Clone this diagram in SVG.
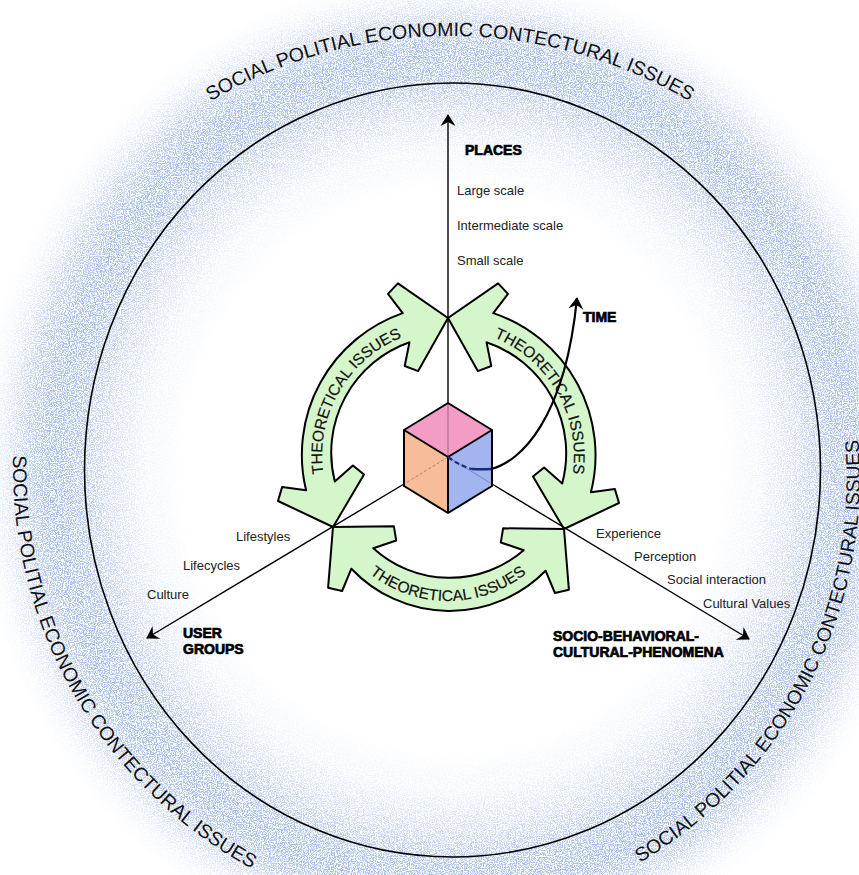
<svg xmlns="http://www.w3.org/2000/svg" width="859" height="875" viewBox="0 0 859 875">
  <defs>
    <style>
      .lbl { font-family: "Liberation Sans", Arial, sans-serif; font-size: 13px; fill: #222; }
      .bold { font-family: "Liberation Sans", Arial, sans-serif; font-size: 14px; font-weight: 700; fill: #000; stroke: #000; stroke-width: 0.7; }
      .ring-txt { font-family: "Liberation Sans", Arial, sans-serif; font-size: 19.5px; fill: #111; }
      .theory-txt { font-family: "Liberation Sans", Arial, sans-serif; font-size: 15.5px; fill: #111; stroke: #111; stroke-width: 0.2; }
      .theory { fill: #d5f5cb; stroke: #000; stroke-width: 2; stroke-linejoin: round; }
      .axis { fill: none; stroke: #000; stroke-width: 1.4; }
      .edge { fill: none; stroke: #000; stroke-width: 2; stroke-linejoin: round; }
      .inner { fill: none; stroke-width: 0.8; }
    </style>
    <radialGradient id="haloFill">
      <stop offset="0.56" stop-color="#6d92dd" stop-opacity="0"/>
      <stop offset="0.64" stop-color="#6d92dd" stop-opacity="0.1"/>
      <stop offset="0.72" stop-color="#6d92dd" stop-opacity="0.3"/>
      <stop offset="0.79" stop-color="#6d92dd" stop-opacity="0.55"/>
      <stop offset="0.84" stop-color="#6d92dd" stop-opacity="0.6"/>
      <stop offset="0.89" stop-color="#6d92dd" stop-opacity="0.42"/>
      <stop offset="0.93" stop-color="#6d92dd" stop-opacity="0.2"/>
      <stop offset="0.97" stop-color="#6d92dd" stop-opacity="0.05"/>
      <stop offset="1" stop-color="#6d92dd" stop-opacity="0"/>
    </radialGradient>
    <filter id="grain" x="-10%" y="-10%" width="120%" height="120%" color-interpolation-filters="sRGB">
      <feTurbulence type="fractalNoise" baseFrequency="0.85" numOctaves="2" seed="11" result="noise"/>
      <feColorMatrix in="noise" type="matrix" values="0 0 0 0 0  0 0 0 0 0  0 0 0 0 0  5 0 0 0 -2" result="dots"/>
      <feComposite in="SourceGraphic" in2="dots" operator="in"/>
    </filter>
    <marker id="head" viewBox="-13 -9 15 18" refX="0" refY="0" markerWidth="15" markerHeight="18" markerUnits="userSpaceOnUse" orient="auto">
      <path d="M1,0 L-11,-7.5 L-7,0 L-11,7.5 Z" fill="#000"/>
    </marker>
    <!-- baselines for the curved lettering -->
    <path id="ringTop" d="M40.4,272.5 A473,473 0 0 1 859.6,272.5"/>
    <path id="ringLeft" d="M74.2,238.5 A457,457 0 0 0 470,924"/>
    <path id="ringRight" d="M433.1,924.5 A448,448 0 0 0 789,235"/>
    <path id="theoryLeftPath" d="M339.15,520 A128,128 0 0 1 450,328"/>
    <path id="theoryRightPath" d="M446,328 A128,128 0 0 1 556.85,520"/>
    <path id="theoryBottomPath" d="M339.75,538.5 A125,125 0 0 0 556.25,538.5"/>
  </defs>

  <rect width="859" height="875" fill="#fff"/>

  <!-- grainy blue halo around the context ring -->
  <g id="halo" filter="url(#grain)">
    <ellipse cx="452.5" cy="470" rx="480" ry="500" fill="url(#haloFill)"/>
  </g>

  <!-- context ring -->
  <g id="context-ring">
    <ellipse cx="452.5" cy="470" rx="368" ry="387" fill="none" stroke="#000" stroke-width="1.6"/>
    <text class="ring-txt"><textPath href="#ringTop" startOffset="50%" text-anchor="middle">SOCIAL POLITIAL ECONOMIC CONTECTURAL ISSUES</textPath></text>
    <text class="ring-txt"><textPath href="#ringLeft" startOffset="50%" text-anchor="middle">SOCIAL POLITIAL ECONOMIC CONTECTURAL ISSUES</textPath></text>
    <text class="ring-txt"><textPath href="#ringRight" startOffset="50%" text-anchor="middle">SOCIAL POLITIAL ECONOMIC CONTECTURAL ISSUES</textPath></text>
  </g>

  <!-- theoretical issues: three curved double-headed arrows -->
  <g id="theory-left">
    <path class="theory" d="M448,318 L397.9,283.4 L388,293.9 L402.7,313.1 A150,150 0 0 0 306.1,490.3 L282.1,487.1 L278,501 L333,527 L364,474.6 L352.9,465.5 L334.8,481.5 A117,117 0 0 1 409.5,342.3 L404.7,366 L418.2,371.1 Z"/>
    <text class="theory-txt"><textPath href="#theoryLeftPath" startOffset="50%" text-anchor="middle">THEORETICAL ISSUES</textPath></text>
  </g>
  <g id="theory-right">
    <path class="theory" d="M448,318 L498.1,283.4 L508,293.9 L493.3,313.1 A150,150 0 0 1 590.9,492.3 L614.9,489.1 L619,503 L564,529 L533,476.6 L544.1,467.5 L562.2,483.5 A117,117 0 0 0 486.5,342.3 L491.3,366 L477.8,371.1 Z"/>
    <text class="theory-txt"><textPath href="#theoryRightPath" startOffset="50%" text-anchor="middle">THEORETICAL ISSUES</textPath></text>
  </g>
  <g id="theory-bottom">
    <path class="theory" d="M333,527 L328.1,587.7 L342.1,591 L351.4,568.7 A135,135 0 0 0 545.6,570.7 L554.9,593 L568.9,589.7 L564,529 L503.1,528.3 L500.8,542.5 L523.7,550.2 A113,113 0 0 1 373.3,548.2 L396.2,540.5 L393.9,526.3 Z"/>
    <text class="theory-txt"><textPath href="#theoryBottomPath" startOffset="50%" text-anchor="middle">THEORETICAL ISSUES</textPath></text>
  </g>

  <!-- connectors: the three axes -->
  <g id="connectors">
    <line class="axis" x1="448" y1="403" x2="448" y2="115" marker-end="url(#head)"/>
    <line class="axis" x1="404" y1="484" x2="147" y2="638" marker-end="url(#head)"/>
    <line class="axis" x1="492" y1="484" x2="749" y2="639" marker-end="url(#head)"/>
  </g>

  <!-- cube at the origin -->
  <g id="cube">
    <path d="M448,403 L492,430 L448,457 L404,430 Z" fill="#f39cc6"/>
    <path d="M404,430 L448,457 L448,513 L404,486 Z" fill="#f7bd98"/>
    <path d="M448,457 L492,430 L492,486 L448,513 Z" fill="#a3b5f0"/>
    <line class="inner" x1="448" y1="457" x2="448" y2="403" stroke="#8a5a70"/>
    <line class="inner" x1="448" y1="457" x2="404" y2="484" stroke="#a07050" stroke-dasharray="3 2"/>
    <line class="inner" x1="448" y1="457" x2="492" y2="484" stroke="#6a7ab0"/>
    <path class="edge" d="M448,403 L492,430 L492,486 L448,513 L404,486 L404,430 Z M404,430 L448,457 L492,430 M448,457 L448,513"/>
  </g>

  <!-- time axis leaving the cube -->
  <g id="time-curve">
    <path d="M448,457 Q460,466 472,469" fill="none" stroke="#1b2a7a" stroke-width="2.2" stroke-dasharray="5 3"/>
    <path d="M472,469 C480,469.5 486,469.3 491,469" fill="none" stroke="#1b2a7a" stroke-width="2.4"/>
    <path d="M491,469 C520,462 565,420 577,298" fill="none" stroke="#000" stroke-width="2.2" marker-end="url(#head)"/>
  </g>

  <!-- axis labels -->
  <g id="places-labels">
    <text class="bold" x="465" y="155">PLACES</text>
    <text class="lbl" x="457" y="195">Large scale</text>
    <text class="lbl" x="457" y="230">Intermediate scale</text>
    <text class="lbl" x="457" y="265">Small scale</text>
  </g>
  <g id="time-label">
    <text class="bold" x="583" y="322">TIME</text>
  </g>
  <g id="user-labels">
    <text class="lbl" x="236" y="541">Lifestyles</text>
    <text class="lbl" x="183" y="570">Lifecycles</text>
    <text class="lbl" x="147" y="599">Culture</text>
    <text class="bold" x="183" y="638">USER</text>
    <text class="bold" x="183" y="654">GROUPS</text>
  </g>
  <g id="phenomena-labels">
    <text class="lbl" x="596" y="538">Experience</text>
    <text class="lbl" x="634" y="561">Perception</text>
    <text class="lbl" x="667" y="584">Social interaction</text>
    <text class="lbl" x="703" y="608">Cultural Values</text>
    <text class="bold" x="553" y="641">SOCIO-BEHAVIORAL-</text>
    <text class="bold" x="553" y="657">CULTURAL-PHENOMENA</text>
  </g>
</svg>
